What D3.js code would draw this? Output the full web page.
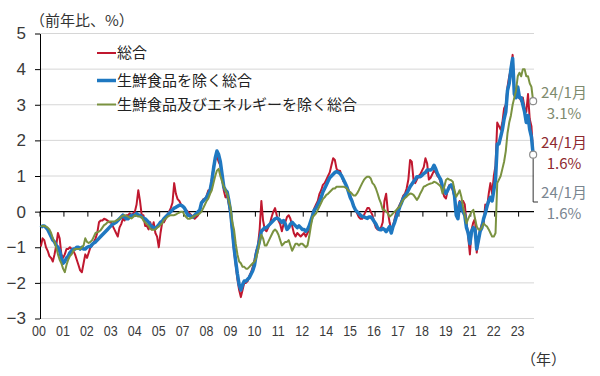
<!DOCTYPE html>
<html>
<meta charset="utf-8">
<style>
body { margin: 0; background: #fff; }
text { font-family: "Noto Sans CJK JP", "Noto Sans", sans-serif; }
</style>
<head>
<script src="https://d3js.org/d3.v7.min.js"></script>
</head>
<body>
<script>
// monthly y/y %, Jan 2000 .. Jan 2024 (one row per year)
var headline = [].concat(
  [-0.98,-0.75,-0.8,-1.0,-1.1,-1.25,-1.3,-1.4,-1.2,-0.95,-0.6,-0.75],
  [-1.2,-1.3,-1.2,-1.05,-1.05,-1.0,-1.05,-1.1,-1.2,-1.35,-1.5,-1.65],
  [-1.7,-1.45,-1.2,-1.3,-1.15,-1.0,-0.95,-0.85,-0.75,-0.6,-0.3,-0.25],
  [-0.25,-0.2,-0.22,-0.25,-0.3,-0.3,-0.4,-0.5,-0.6,-0.7,-0.45,-0.35],
  [-0.2,-0.25,-0.1,-0.1,-0.05,-0.1,-0.05,0.0,0.2,0.6,0.3,-0.1],
  [-0.1,-0.4,-0.4,-0.5,-0.3,-0.5,-0.3,-0.6,-0.7,-1.0,-0.6,-0.3],
  [-0.3,-0.2,-0.1,0.0,0.1,0.25,0.8,0.5,0.35,0.3,0.2,0.15],
  [0.1,0.05,0.0,-0.05,-0.1,-0.15,-0.2,-0.15,-0.1,0.05,0.25,0.35],
  [0.35,0.45,0.6,0.6,0.9,1.25,1.45,1.55,1.4,1.3,1.0,0.6],
  [0.4,0.45,0.2,-0.1,-0.6,-1.1,-1.5,-1.9,-2.2,-2.4,-2.2,-2.0],
  [-2.0,-1.95,-1.8,-1.7,-1.55,-1.35,-1.1,-0.95,-0.5,0.3,-0.25,-0.5],
  [-0.55,-0.45,-0.35,-0.15,0.0,0.1,-0.1,-0.25,-0.35,-0.55,-0.35,-0.3],
  [-0.15,-0.1,-0.2,-0.4,-0.6,-0.7,-0.6,-0.65,-0.7,-0.65,-0.6,-0.7],
  [-0.6,-0.5,-0.3,-0.05,0.1,0.2,0.3,0.5,0.6,0.75,0.8,0.9],
  [1.0,1.1,1.3,1.5,1.45,1.2,1.15,1.15,1.0,0.85,0.8,0.7],
  [0.6,0.45,0.3,0.15,0.05,-0.05,-0.15,-0.2,-0.2,-0.1,0.0,0.1],
  [0.1,0.0,-0.1,-0.3,-0.45,-0.5,-0.5,-0.45,-0.3,0.3,0.5,0.0],
  [-0.3,-0.5,-0.4,-0.2,0.0,0.1,0.2,0.3,0.45,0.5,0.65,0.9],
  [1.45,1.4,0.9,0.8,0.9,1.0,1.05,1.15,1.25,1.5,1.35,0.9],
  [0.95,1.05,1.15,1.1,1.0,0.95,0.8,0.6,0.42,0.37,0.6,0.75],
  [0.7,0.6,0.4,0.1,0.1,0.3,0.2,0.3,0.2,-0.3,-0.7,-1.2],
  [-0.5,-0.3,-0.2,-1.15,-0.8,-0.5,-0.35,-0.35,0.2,0.1,0.5,0.8],
  [0.5,1.0,1.3,2.5,2.4,2.3,2.5,2.9,3.0,3.5,3.8,4.0],
  [4.4,3.4,3.3,3.5,3.2,3.1,3.2,2.9,2.8,3.3,2.6,2.4],
  [1.6]
);

var exFresh = [].concat(
  [-0.45,-0.4,-0.4,-0.45,-0.5,-0.6,-0.7,-0.8,-0.85,-0.95,-1.0,-1.1],
  [-1.3,-1.45,-1.4,-1.3,-1.25,-1.15,-1.1,-1.05,-1.05,-1.0,-1.0,-1.05],
  [-1.0,-1.05,-1.05,-1.0,-0.98,-0.98,-0.92,-0.88,-0.85,-0.8,-0.75,-0.7],
  [-0.65,-0.6,-0.55,-0.5,-0.45,-0.4,-0.35,-0.33,-0.3,-0.25,-0.2,-0.15],
  [-0.1,-0.15,-0.2,-0.2,-0.15,-0.1,-0.1,-0.1,-0.05,-0.1,-0.1,-0.15],
  [-0.18,-0.2,-0.25,-0.3,-0.38,-0.42,-0.45,-0.47,-0.42,-0.37,-0.3,-0.27],
  [-0.2,-0.15,-0.1,-0.05,0.0,0.05,0.1,0.12,0.15,0.18,0.18,0.15],
  [0.1,0.0,-0.1,-0.1,-0.15,-0.15,-0.1,-0.05,0.0,0.05,0.25,0.3],
  [0.35,0.4,0.5,0.6,0.85,1.2,1.5,1.7,1.6,1.4,1.05,0.7],
  [0.6,0.55,0.3,0.0,-0.5,-1.0,-1.4,-1.75,-2.05,-2.2,-2.05,-1.95],
  [-1.95,-1.9,-1.85,-1.75,-1.65,-1.5,-1.2,-1.0,-0.8,-0.55,-0.5,-0.45],
  [-0.45,-0.4,-0.35,-0.3,-0.25,-0.2,-0.18,-0.2,-0.25,-0.3,-0.25,-0.35],
  [-0.5,-0.45,-0.35,-0.3,-0.35,-0.4,-0.45,-0.4,-0.45,-0.5,-0.5,-0.55],
  [-0.5,-0.4,-0.25,-0.1,0.05,0.1,0.2,0.3,0.4,0.55,0.65,0.75],
  [0.85,0.95,1.0,1.05,1.1,1.12,1.1,1.07,1.0,0.9,0.8,0.7],
  [0.55,0.4,0.3,0.15,0.05,0.0,-0.05,-0.1,-0.14,-0.15,-0.17,-0.19],
  [-0.15,-0.15,-0.2,-0.28,-0.35,-0.45,-0.5,-0.51,-0.47,-0.5,-0.56,-0.5],
  [-0.42,-0.6,-0.42,-0.3,-0.14,0.0,0.14,0.25,0.37,0.45,0.51,0.6],
  [0.7,0.77,0.84,0.9,0.98,0.98,0.98,1.02,1.07,1.1,1.17,1.17],
  [1.17,1.2,1.3,1.2,1.07,0.98,0.89,0.7,0.6,0.51,0.6,0.7],
  [0.75,0.7,0.45,-0.1,-0.2,0.25,0.1,0.0,-0.1,-0.45,-0.6,-0.9],
  [-0.55,-0.45,-0.5,-1.05,-0.8,-0.55,-0.45,-0.2,-0.05,0.15,0.3,0.4],
  [0.3,0.6,0.9,1.9,1.9,2.1,2.3,2.6,2.8,3.4,3.6,4.0],
  [4.3,3.3,3.2,3.5,3.2,3.2,3.0,2.8,2.5,2.7,2.3,2.1],
  [1.6]
);

var exFreshEnergy = [].concat(
  [-0.42,-0.4,-0.4,-0.42,-0.45,-0.5,-0.6,-0.75,-0.85,-1.0,-1.2,-1.35],
  [-1.45,-1.6,-1.7,-1.5,-1.35,-1.25,-1.2,-1.1,-1.05,-1.05,-1.05,-1.05],
  [-1.0,-0.95,-0.75,-0.85,-0.88,-0.85,-0.8,-0.7,-0.6,-0.58,-0.56,-0.52],
  [-0.45,-0.38,-0.35,-0.3,-0.28,-0.28,-0.28,-0.28,-0.25,-0.23,-0.2,-0.14],
  [-0.12,-0.1,-0.12,-0.14,-0.17,-0.19,-0.15,-0.1,-0.12,-0.14,-0.14,-0.15],
  [-0.25,-0.3,-0.35,-0.4,-0.48,-0.51,-0.51,-0.5,-0.45,-0.42,-0.37,-0.33],
  [-0.23,-0.2,-0.15,-0.12,-0.1,-0.1,-0.1,-0.08,-0.05,-0.03,0.0,0.0],
  [-0.1,-0.15,-0.2,-0.2,-0.18,-0.15,-0.12,-0.1,-0.08,-0.05,0.0,0.1],
  [0.2,0.3,0.37,0.5,0.6,0.8,1.0,1.15,1.2,1.0,0.85,0.7],
  [0.6,0.5,0.3,0.1,-0.3,-0.5,-0.9,-1.2,-1.4,-1.45,-1.55,-1.55],
  [-1.6,-1.6,-1.55,-1.5,-1.45,-1.4,-1.3,-1.1,-0.85,-0.65,-0.75,-0.95],
  [-0.95,-0.85,-0.75,-0.65,-0.55,-0.5,-0.55,-0.65,-0.8,-0.95,-0.9,-0.85],
  [-0.85,-0.8,-0.95,-1.1,-1.0,-0.9,-0.9,-0.95,-0.9,-0.9,-0.95,-1.0],
  [-0.95,-0.7,-0.4,-0.15,-0.1,-0.05,0.05,0.15,0.25,0.35,0.4,0.47],
  [0.5,0.55,0.6,0.65,0.65,0.7,0.7,0.7,0.7,0.7,0.68,0.65],
  [0.58,0.55,0.5,0.45,0.45,0.51,0.6,0.7,0.8,0.89,0.95,0.98],
  [0.98,0.93,0.8,0.75,0.65,0.51,0.35,0.23,0.05,0.05,0.0,-0.05],
  [-0.14,-0.1,-0.05,0.0,0.05,0.1,0.14,0.25,0.33,0.38,0.42,0.47],
  [0.51,0.5,0.47,0.4,0.33,0.4,0.51,0.6,0.7,0.72,0.75,0.77],
  [0.79,0.8,0.84,0.82,0.79,0.75,0.7,0.51,0.7,0.89,0.93,0.9],
  [0.88,0.84,0.6,0.42,0.5,0.6,0.42,0.14,-0.1,-0.33,-0.2,-0.1],
  [0.0,0.05,-0.2,-0.42,-0.5,-0.51,-0.45,-0.33,-0.38,-0.42,-0.5,-0.6],
  [-0.7,-0.7,-0.6,0.8,0.9,1.0,1.2,1.4,1.7,2.2,2.5,2.7],
  [3.0,3.2,3.4,3.8,3.9,3.8,4.0,4.0,3.8,3.8,3.6,3.5],
  [3.1]
);

// category axis: a label every 14 months (Excel style), so some years are skipped
var xTickLabels = ["00","01","02","03","04","05","07","08","09","10","11","12","14","15","16","17","18","19","21","22","23"];
var xTickStep = 14;
var yTicks = [-3,-2,-1,0,1,2,3,4,5];

var seriesNames = ["総合", "生鮮食品を除く総合", "生鮮食品及びエネルギーを除く総合"];
var seriesColors = ["#c0182f", "#1f78c1", "#7a9240"];
var seriesWidths = [2, 3.5, 2];
var allSeries = [headline, exFresh, exFreshEnergy];

var endLabels = ["24/1月", "24/1月", "24/1月"];

(function () {
  var W = 600, H = 376;
  var pLeft = 40, pRight = 534, pTop = 33.5, pBottom = 318.5;
  var n = headline.length;

  var svg = d3.select("body").append("svg")
    .attr("width", W).attr("height", H);

  var x = d3.scaleLinear().domain([0, n]).range([pLeft, pRight]);
  var y = d3.scaleLinear().domain([-3, 5]).range([pBottom, pTop]);

  // grid
  svg.append("g").selectAll("line")
    .data(yTicks.filter(function(d){ return d !== 0; }))
    .enter().append("line")
    .attr("x1", pLeft).attr("x2", pRight)
    .attr("y1", function(d){ return y(d); })
    .attr("y2", function(d){ return y(d); })
    .attr("stroke", "#d6d6d6").attr("stroke-width", 1);

  // y axis
  var yAxis = svg.append("g")
    .attr("transform", "translate(" + pLeft + ",0)")
    .call(d3.axisLeft(y).tickValues(yTicks).tickSize(5).tickSizeOuter(0).tickPadding(9)
      .tickFormat(function(d){ return d < 0 ? "\u2212" + Math.abs(d) : d; }));
  yAxis.select(".domain").attr("stroke", "#000");
  yAxis.selectAll(".tick line").attr("stroke", "#000");
  yAxis.selectAll("text")
    .attr("font-size", 17).attr("fill", "#3a3a3a")
    .style("font-family", "'Liberation Sans', Arial, sans-serif");

  // zero line with tick marks
  var y0 = y(0);
  svg.append("line")
    .attr("x1", pLeft).attr("x2", pRight).attr("y1", y0).attr("y2", y0)
    .attr("stroke", "#000").attr("stroke-width", 1.2);
  svg.append("g").selectAll("line")
    .data(xTickLabels)
    .enter().append("line")
    .attr("x1", function(d, k){ return x(k * xTickStep); })
    .attr("x2", function(d, k){ return x(k * xTickStep); })
    .attr("y1", y0).attr("y2", y0 + 5)
    .attr("stroke", "#000");

  // x labels
  svg.append("g").selectAll("text")
    .data(xTickLabels)
    .enter().append("text")
    .attr("transform", function(d, k){ return "translate(" + (x(k * xTickStep) - 1) + ",336) scale(0.86,1)"; })
    .attr("text-anchor", "middle")
    .attr("font-size", 14.5).attr("fill", "#3a3a3a")
    .style("font-family", "'Liberation Sans', Arial, sans-serif")
    .text(function(d){ return d; });

  // lines
  var line = d3.line()
    .x(function(d, i){ return x(i + 0.5); })
    .y(function(d){ return y(d); });

  svg.append("g").selectAll("path")
    .data(allSeries)
    .enter().append("path")
    .attr("d", line)
    .attr("fill", "none")
    .attr("stroke", function(d, i){ return seriesColors[i]; })
    .attr("stroke-width", function(d, i){ return seriesWidths[i]; })
    .attr("stroke-linejoin", "round");

  // legend
  var legend = svg.append("g").selectAll("g")
    .data(seriesNames)
    .enter().append("g")
    .attr("transform", function(d, i){ return "translate(97," + [53, 80.5, 104.5][i] + ")"; });
  legend.append("line")
    .attr("x1", 0).attr("x2", 19)
    .attr("stroke", function(d, i){ return seriesColors[i]; })
    .attr("stroke-width", function(d, i){ return seriesWidths[i]; });
  legend.append("text")
    .attr("x", 20).attr("dy", "0.36em")
    .attr("font-size", 15).attr("fill", "#222")
    .text(function(d){ return d; });

  // axis titles
  svg.append("text").attr("x", 30).attr("y", 26)
    .attr("font-size", 15).attr("fill", "#333").text("（前年比、%）");
  svg.append("text").attr("x", 521).attr("y", 365)
    .attr("font-size", 15).attr("fill", "#333").text("（年）");

  // end-point markers and labels
  var last = n - 1;
  var xe = x(last + 0.5);
  svg.append("path")
    .attr("d", "M" + xe + "," + y(exFresh[last]) + "V202H538")
    .attr("fill", "none").attr("stroke", "#333").attr("stroke-width", 1);
  [exFreshEnergy, exFresh].forEach(function(s){
    svg.append("circle")
      .attr("cx", xe).attr("cy", y(s[last])).attr("r", 3.5)
      .attr("fill", "#fff").attr("stroke", "#8c8c8c").attr("stroke-width", 1.2);
  });

  var labelSpecs = [
    {s: exFreshEnergy, y1: 93, y2: 114, color: "#7e8a6e"},
    {s: headline, y1: 143, y2: 164, color: "#8e2a30"},
    {s: exFresh, y1: 193, y2: 214, color: "#7a8590"}
  ];
  labelSpecs.forEach(function(d, i){
    svg.append("text").attr("x", 564).attr("y", d.y1).attr("dy", "0.36em")
      .attr("text-anchor", "middle").attr("font-size", 15).attr("fill", d.color)
      .text(endLabels[i]);
    svg.append("text").attr("x", 564).attr("y", d.y2).attr("dy", "0.36em")
      .attr("text-anchor", "middle").attr("font-size", 15).attr("fill", d.color)
      .text(d3.format(".1f")(d.s[last]) + "%");
  });
})();
</script>
</body>
</html>
